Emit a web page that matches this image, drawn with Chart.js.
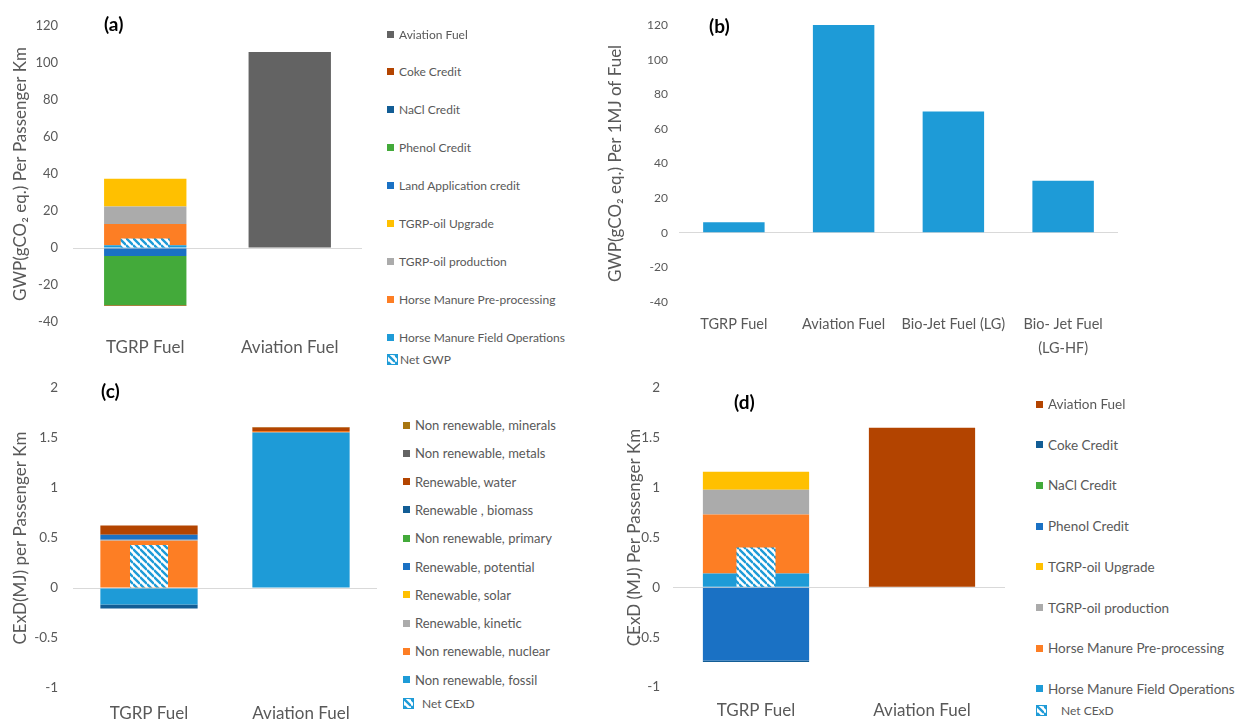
<!DOCTYPE html>
<html>
<head>
<meta charset="utf-8">
<script src="https://cdn.jsdelivr.net/npm/chart.js@4.4.1/dist/chart.umd.min.js"></script>
<style>
  body{margin:0;background:#fff;width:1241px;height:722px;overflow:hidden;position:relative;font-family:Lato,sans-serif;}
  canvas{position:absolute;}
  .tag{position:absolute;font-weight:bold;font-size:19px;line-height:20px;color:#000;}
  .legend{position:absolute;color:#595959;}
  .legend .item{position:absolute;left:0;height:20px;white-space:nowrap;display:flex;align-items:center;}
  .legend .box{display:inline-block;width:7px;height:7px;}
</style>
</head>
<body>
<canvas id="chartA" width="370" height="360" style="left:0;top:0"></canvas>
<canvas id="chartB" width="641" height="360" style="left:600px;top:0"></canvas>
<canvas id="chartC" width="385" height="362" style="left:0;top:360px"></canvas>
<canvas id="chartD" width="390" height="362" style="left:620px;top:360px"></canvas>
<div class="tag" style="left:104px;top:14px">(a)</div>
<div class="tag" style="left:709px;top:16px">(b)</div>
<div class="tag" style="left:101px;top:381px">(c)</div>
<div class="tag" style="left:734px;top:392px">(d)</div>
<div class="legend" id="legendA"></div>
<div class="legend" id="legendC"></div>
<div class="legend" id="legendD"></div>
<script>
'use strict';

// (a) GWP per passenger km
const fuelsA = ['TGRP Fuel', 'Aviation Fuel'];
const fieldOpsA = [1.5, 0];
const preProcA = [11.5, 0];
const oilProdA = [9.5, 0];
const upgradeA = [15, 0];
const landAppA = [-4.3, 0];
const phenolA = [-26.6, 0];
const naclA = [-0.1, 0];
const cokeA = [-0.4, 0];
const aviationA = [0, 106];
const netA = [5.2, null];
const ticksA = [-40, -20, 0, 20, 40, 60, 80, 100, 120];

// (b) GWP per 1MJ of fuel
const fuelsB = ['TGRP Fuel', 'Aviation Fuel', 'Bio-Jet Fuel (LG)', ['Bio- Jet Fuel', '(LG-HF)']];
const gwpB = [6, 120, 70, 30];
const ticksB = [-40, -20, 0, 20, 40, 60, 80, 100, 120];

// (c) CExD by resource
const fuelsC = ['TGRP Fuel', 'Aviation Fuel'];
const fossilC = [-0.165, 1.554];
const nuclearC = [0.473, 0.016];
const kineticC = [0.01, 0];
const solarC = [0, 0];
const potentialC = [0.05, 0];
const primaryC = [0, 0];
const biomassC = [-0.04, 0];
const waterC = [0.093, 0.034];
const metalsC = [0, 0];
const mineralsC = [0, 0.006];
const netC = [0.43, null];
const ticksC = [-1, -0.5, 0, 0.5, 1, 1.5, 2];

// (d) CExD by process
const fuelsD = ['TGRP Fuel', 'Aviation Fuel'];
const fieldOpsD = [0.14, 0];
const preProcD = [0.59, 0];
const oilProdD = [0.25, 0];
const upgradeD = [0.18, 0];
const phenolD = [-0.735, 0];
const naclD = [0, 0];
const cokeD = [-0.015, 0];
const aviationD = [0, 1.6];
const netD = [0.4, null];
const ticksD = [-1, -0.5, 0, 0.5, 1, 1.5, 2];

const C = {sky:'#1E9BD7', orange:'#FD7E24', grey:'#ABABAB', yellow:'#FFC000', blue:'#1A71C4',
  green:'#43AA3A', navy:'#125D95', rust:'#B34400', dark:'#636363', gold:'#A87610'};
const TEXT = '#595959';

Chart.defaults.font.family = 'Lato, sans-serif';
Chart.defaults.color = TEXT;

// blue diagonal hatch used for the net bars
let hatchTile = document.createElement('canvas');
hatchTile.width = 7; hatchTile.height = 7;
let hx = hatchTile.getContext('2d');
hx.fillStyle = '#fff';
hx.fillRect(0, 0, 7, 7);
hx.strokeStyle = C.sky;
hx.lineWidth = 2.4;
hx.beginPath();
for (let k of [-7, 0, 7]) { hx.moveTo(0, k); hx.lineTo(7, k + 7); }
hx.stroke();

function hatchFor(id) {
  return document.getElementById(id).getContext('2d').createPattern(hatchTile, 'repeat');
}

function part(label, data, color, bp) {
  return {label: label, data: data, backgroundColor: color, stack: 'main', order: 1,
    categoryPercentage: 1, barPercentage: bp};
}
function net(label, data, id, bp) {
  return {label: label, data: data, backgroundColor: hatchFor(id), stack: 'net', order: 0,
    grouped: false, categoryPercentage: 1, barPercentage: bp, isNet: true};
}

function opts(o) {
  return {
    responsive: false,
    animation: false,
    layout: {padding: {top: o.top, right: o.right, left: 0, bottom: 0}},
    plugins: {legend: {display: false}, tooltip: {enabled: false}},
    scales: {
      x: {
        stacked: true,
        grid: {display: false, drawTicks: false},
        border: {display: false},
        ticks: {color: TEXT, font: {size: o.xFont, lineHeight: o.xLine}, padding: o.xPad,
          maxRotation: 0, minRotation: 0, autoSkip: false},
        afterFit: s => { s.height = o.xH; }
      },
      y: {
        stacked: true,
        min: o.ticks[0],
        max: o.ticks[o.ticks.length - 1],
        afterBuildTicks: s => { s.ticks = o.ticks.map(v => ({value: v})); },
        ticks: {color: TEXT, font: {size: o.yFont}, padding: o.yPad, callback: v => String(v)},
        grid: {color: c => (c.tick && c.tick.value === 0) ? '#D9D9D9' : 'rgba(0,0,0,0)', drawTicks: false, lineWidth: 1},
        border: {display: false},
        title: {display: true, text: o.title, color: TEXT, font: {size: 17}, padding: {top: o.tPad, bottom: 0}},
        afterFit: s => { s.width = o.yW; }
      }
    }
  };
}

const chartA = new Chart(document.getElementById('chartA'), {
  type: 'bar',
  data: {
    labels: fuelsA,
    datasets: [
      part('Horse Manure Field Operations', fieldOpsA, C.sky, 0.57),
      part('Horse Manure Pre-processing', preProcA, C.orange, 0.57),
      part('TGRP-oil production', oilProdA, C.grey, 0.57),
      part('TGRP-oil Upgrade', upgradeA, C.yellow, 0.57),
      part('Land Application credit', landAppA, C.blue, 0.57),
      part('Phenol Credit', phenolA, C.green, 0.57),
      part('NaCl Credit', naclA, C.navy, 0.57),
      part('Coke Credit', cokeA, C.rust, 0.57),
      part('Aviation Fuel', aviationA, C.dark, 0.57),
      net('Net GWP', netA, 'chartA', 0.34)
    ]
  },
  options: opts({top: 26, right: 8, xH: 38, yW: 73, xFont: 17, xLine: 1.5, xPad: 13, yFont: 13, yPad: 15,
    tPad: 10, ticks: ticksA, title: 'GWP(gCO\u2082 eq.) Per Passenger Km'})
});

const chartB = new Chart(document.getElementById('chartB'), {
  type: 'bar',
  data: {
    labels: fuelsB,
    datasets: [part('GWP', gwpB, C.sky, 0.56)]
  },
  options: opts({top: 25, right: 123, xH: 58, yW: 79, xFont: 14.5, xLine: 1.65, xPad: 10, yFont: 12, yPad: 11,
    tPad: 5, ticks: ticksB, title: 'GWP(gCO\u2082 eq.) Per 1MJ of Fuel'})
});

const chartC = new Chart(document.getElementById('chartC'), {
  type: 'bar',
  data: {
    labels: fuelsC,
    datasets: [
      part('Non renewable, fossil', fossilC, C.sky, 0.64),
      part('Non renewable, nuclear', nuclearC, C.orange, 0.64),
      part('Renewable, kinetic', kineticC, C.grey, 0.64),
      part('Renewable, solar', solarC, C.yellow, 0.64),
      part('Renewable, potential', potentialC, C.blue, 0.64),
      part('Non renewable, primary', primaryC, C.green, 0.64),
      part('Renewable , biomass', biomassC, C.navy, 0.64),
      part('Renewable, water', waterC, C.rust, 0.64),
      part('Non renewable, metals', metalsC, C.dark, 0.64),
      part('Non renewable, minerals', mineralsC, C.gold, 0.64),
      net('Net CExD', netC, 'chartC', 0.25)
    ]
  },
  options: opts({top: 28, right: 8, xH: 34, yW: 73, xFont: 17, xLine: 1.5, xPad: 13, yFont: 13.5, yPad: 15,
    tPad: 10, ticks: ticksC, title: 'CExD(MJ) per Passenger Km'})
});

const chartD = new Chart(document.getElementById('chartD'), {
  type: 'bar',
  data: {
    labels: fuelsD,
    datasets: [
      part('Horse Manure Field Operations', fieldOpsD, C.sky, 0.64),
      part('Horse Manure Pre-processing', preProcD, C.orange, 0.64),
      part('TGRP-oil production', oilProdD, C.grey, 0.64),
      part('TGRP-oil Upgrade', upgradeD, C.yellow, 0.64),
      part('Phenol Credit', phenolD, C.blue, 0.64),
      part('NaCl Credit', naclD, C.green, 0.64),
      part('Coke Credit', cokeD, C.navy, 0.64),
      part('Aviation Fuel', aviationD, C.rust, 0.64),
      net('Net CExD', netD, 'chartD', 0.235)
    ]
  },
  options: opts({top: 28, right: 5, xH: 35, yW: 53, xFont: 17, xLine: 1.5, xPad: 11, yFont: 13.5, yPad: 13,
    tPad: 4, ticks: ticksD, title: 'CExD (MJ) Per Passenger Km'})
});

// HTML legends, Excel style: reversed series, net entry last
function buildLegend(chart, id, left, first, step, netY, size, netGap) {
  let el = document.getElementById(id);
  el.style.left = left + 'px';
  el.style.top = '0px';
  let sets = chart.data.datasets;
  let main = sets.filter(d => !d.isNet).reverse();
  let nets = sets.filter(d => d.isNet);
  main.forEach((d, i) => {
    let item = document.createElement('div');
    item.className = 'item';
    item.style.top = (first + i * step - 10) + 'px';
    item.style.fontSize = size + 'px';
    let box = document.createElement('span');
    box.className = 'box';
    box.style.background = d.backgroundColor;
    box.style.marginRight = '5px';
    let txt = document.createElement('span');
    txt.textContent = d.label;
    item.appendChild(box);
    item.appendChild(txt);
    el.appendChild(item);
  });
  nets.forEach(d => {
    let item = document.createElement('div');
    item.className = 'item';
    item.style.top = (netY - 10) + 'px';
    item.style.fontSize = '12px';
    let box = document.createElement('span');
    box.className = 'box';
    box.style.width = '9px';
    box.style.height = '9px';
    box.style.border = '1px solid ' + C.sky;
    box.style.backgroundImage = 'url(' + hatchTile.toDataURL() + ')';
    box.style.marginRight = netGap + 'px';
    let txt = document.createElement('span');
    txt.textContent = d.label;
    item.appendChild(box);
    item.appendChild(txt);
    el.appendChild(item);
  });
}

buildLegend(chartA, 'legendA', 387, 34, 37.9, 359, 12, 2);
buildLegend(chartC, 'legendC', 403, 425, 28.3, 703, 13, 8);
buildLegend(chartD, 'legendD', 1036, 404, 40.7, 710, 13.5, 14);
</script>
</body>
</html>
